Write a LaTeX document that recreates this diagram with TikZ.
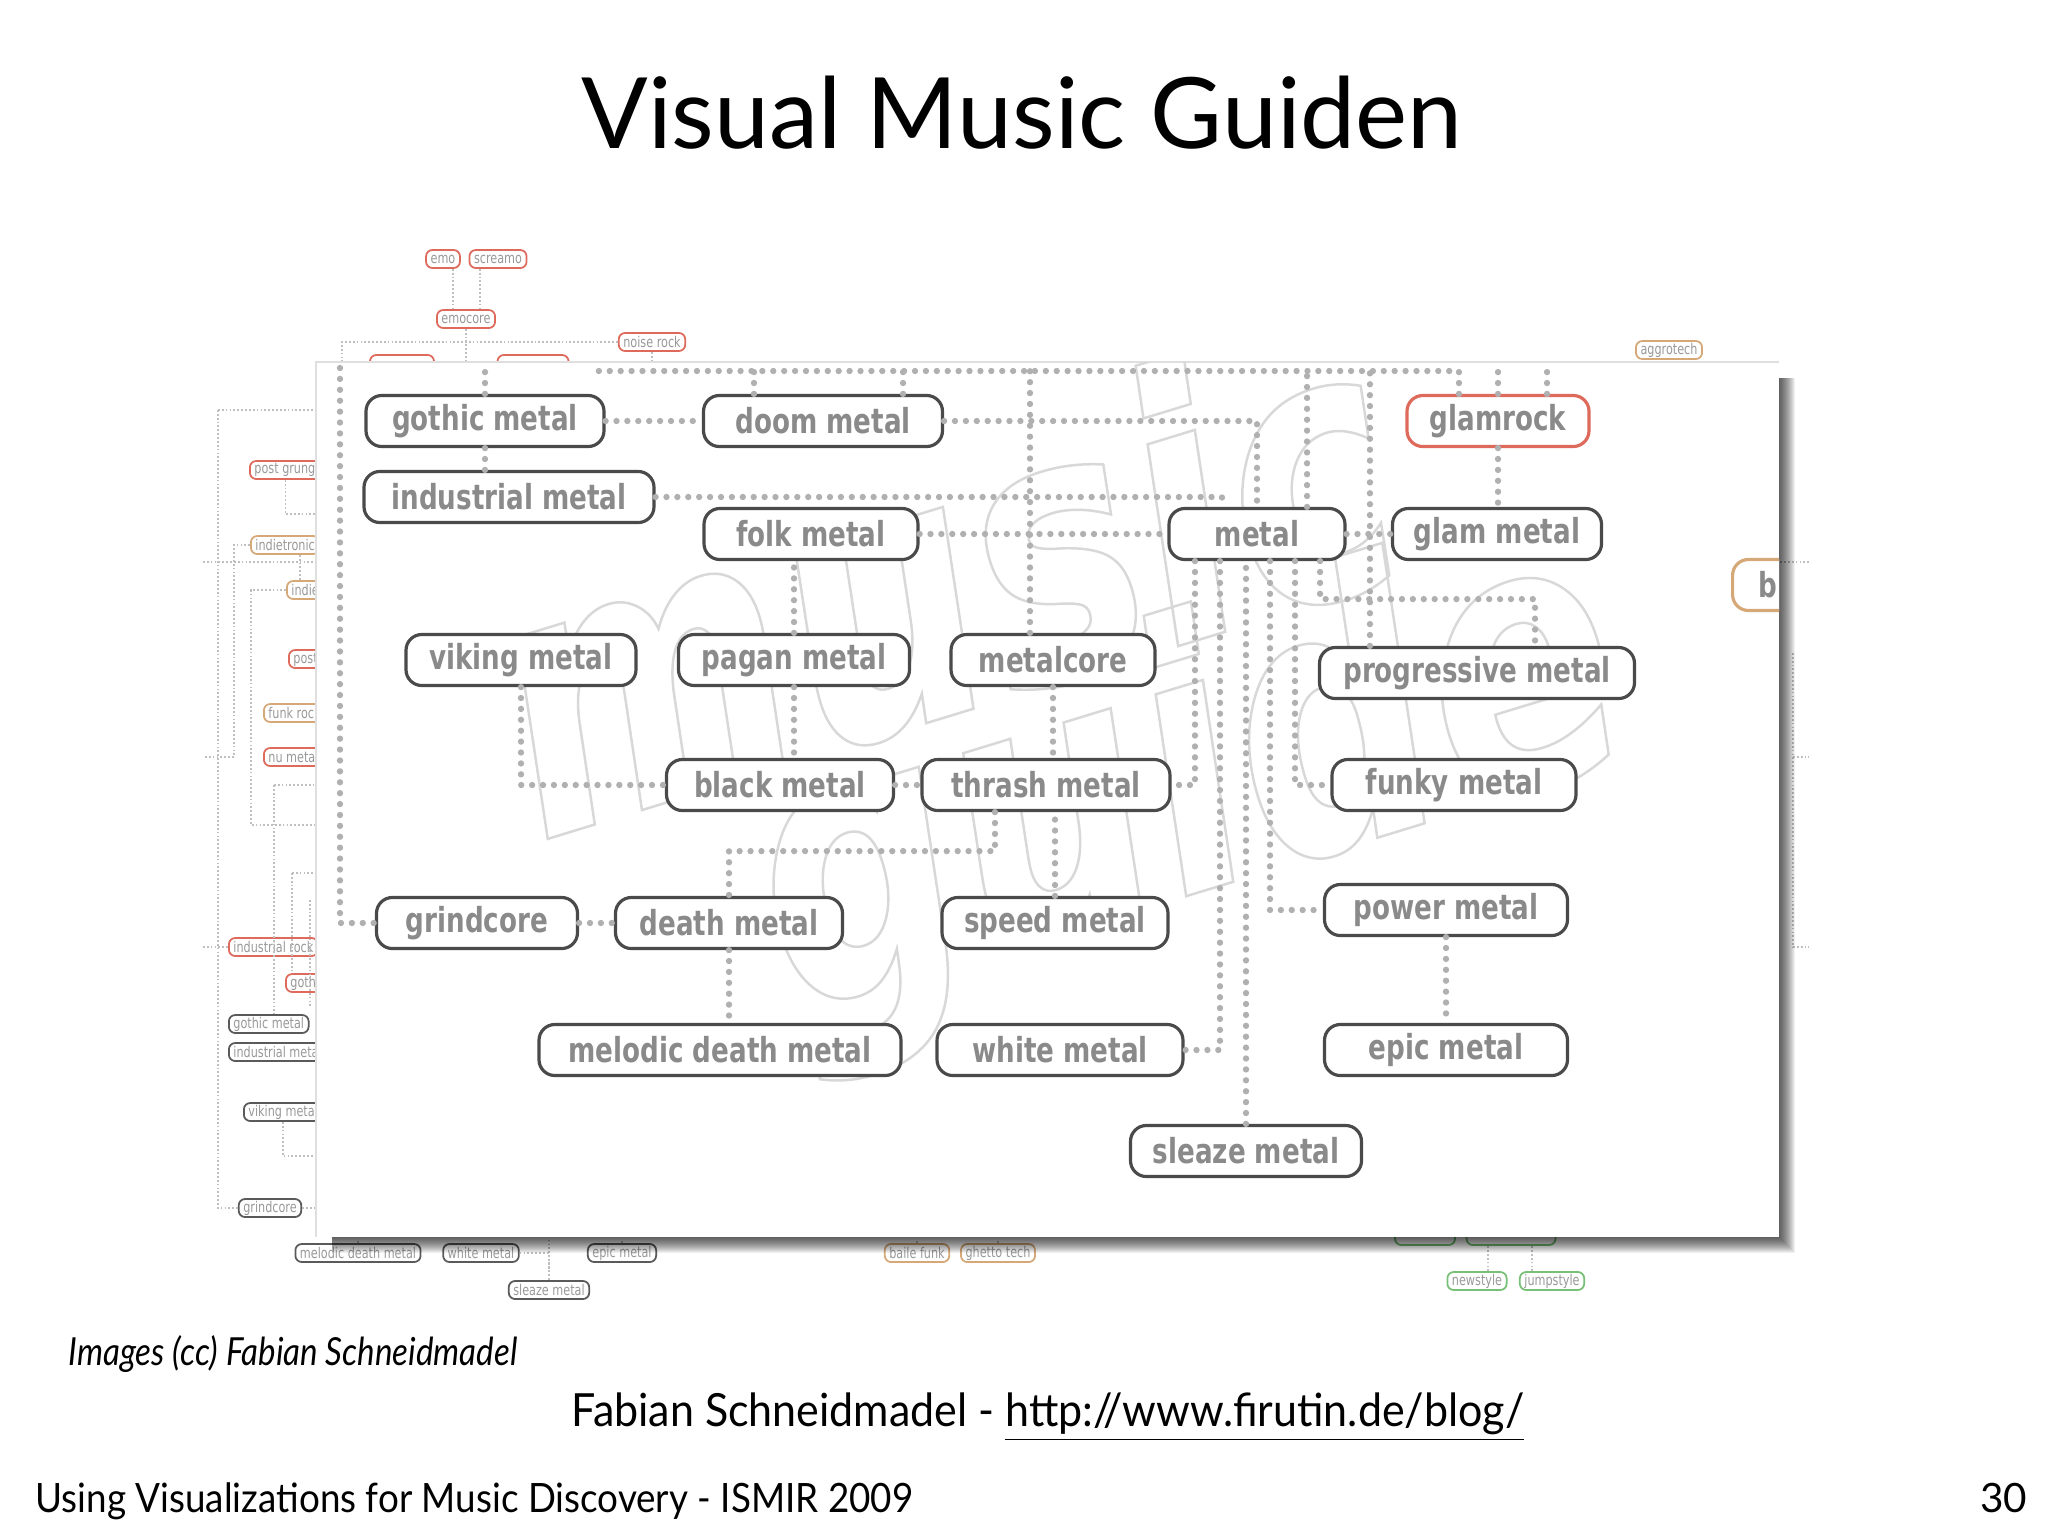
\documentclass[tikz,border=0pt]{standalone}
\usepackage{fontspec}
\usepackage{xcolor}
\usepackage{tikz}
\usetikzlibrary{calc, positioning}
\setmainfont{Lato}
\newfontfamily\genrefont[FakeStretch=0.76]{DejaVu Sans}
\newcommand{\outlinetext}[1]{\special{pdf:code q 1 Tr 0.7 w}#1\special{pdf:code Q}}

\definecolor{nodeborder}{HTML}{4A4A4A}
\definecolor{nodetext}{HTML}{8A8A8A}
\definecolor{dotgray}{HTML}{B0B0B0}
\definecolor{redborder}{HTML}{DE6A5C}
\definecolor{tanborder}{HTML}{D6A878}
\definecolor{greenborder}{HTML}{78C077}
\definecolor{minigray}{HTML}{5A5A5A}
\definecolor{markgray}{HTML}{D8D8D8}

\tikzset{
    genre/.style={draw=nodeborder, line width=0.9pt, rounded corners=4.5pt, fill=white,
        minimum height=0.51cm, minimum width=#1*0.01cm, inner sep=0pt,
        text=nodetext, font=\genrefont\bfseries\fontsize{9.8}{10}\selectfont},
    genre/.default=200,
    mini/.style={draw=#1, line width=0.5pt, rounded corners=1.8pt, fill=white,
        minimum height=0.18cm, inner xsep=1.3pt, inner ysep=0pt,
        text=gray!80, font=\genrefont\fontsize{4.2}{5}\selectfont},
    mini/.default=minigray,
    link/.style={draw=dotgray, line width=1.8pt, line cap=round, dash pattern=on 0pt off 3.1pt},
    minilink/.style={draw=gray!50, line width=0.45pt, dash pattern=on 0.5pt off 0.6pt},
    slidetext/.style={inner sep=0pt, text=black},
    logotext/.style={rotate=17, inner sep=0pt, text=markgray,
        font=\genrefont\bfseries\itshape\fontsize{105}{105}\selectfont},
}

\begin{document}
\begin{tikzpicture}[x=0.01cm, y=-0.01cm]
    \useasboundingbox (0,0) rectangle (2048,1536);
    \coordinate (paneltop) at (0,366);
    \coordinate (panelfoot) at (0,1240);

    % Hintergrund: zweite Ansicht
    \node[mini=redborder] (memo) at (443,259) {emo};
    \node[mini=redborder] (mscreamo) at (498,259) {screamo};
    \node[mini=redborder] (memocore) at (466,319) {emocore};
    \node[mini=redborder] (mnoise) at (652,342) {noise rock};
    \node[mini=redborder, minimum width=0.64cm] (mhidA) at (402,364) {};
    \node[mini=redborder, minimum width=0.71cm] (mhidB) at (533,364) {};
    \node[mini=tanborder] (maggro) at (1669,350) {aggrotech};

    \node[mini=redborder, anchor=west] (mpostgrunge) at (249,470) {post grunge};
    \node[mini=tanborder, anchor=west] (mindietronic) at (250,545) {indietronic};
    \node[mini=tanborder, anchor=west] (mindie) at (286,590) {indie rock};
    \node[mini=redborder, anchor=west] (mpost) at (288,659) {post rock};
    \node[mini=tanborder, anchor=west] (mfunkrock) at (263,713) {funk rock};
    \node[mini=redborder, anchor=west] (mnumetal) at (263,757) {nu metal};
    \node[mini=redborder, anchor=west] (mindrock) at (228,947) {industrial rock};
    \node[mini=redborder, anchor=west] (mgothrock) at (285,983) {gothic rock};
    \node[mini, anchor=west] (mgothmetal) at (228,1024) {gothic metal};
    \node[mini, anchor=west] (mindmetal) at (228,1052) {industrial metal};
    \node[mini, anchor=west] (mviking) at (243,1112) {viking metal};
    \node[mini] (mgrind) at (270,1208) {grindcore};

    \node[mini] (mmelodic) at (358,1253) {melodic death metal};
    \node[mini] (mwhite) at (481,1253) {white metal};
    \node[mini] (mepic) at (622,1253) {epic metal};
    \node[mini] (msleaze) at (549,1290) {sleaze metal};
    \node[mini=tanborder] (mbaile) at (917,1253) {baile funk};
    \node[mini=tanborder] (mghetto) at (998,1253) {ghetto tech};
    \node[mini=greenborder, minimum width=0.6cm] (mgreenA) at (1425,1236) {};
    \node[mini=greenborder, minimum width=0.89cm] (mgreenB) at (1511,1236) {};
    \node[mini=greenborder] (mnewstyle) at (1477,1281) {newstyle};
    \node[mini=greenborder] (mjumpstyle) at (1552,1281) {jumpstyle};

    % Linien der zweiten Ansicht
    \draw[minilink] ([xshift=0.1cm]memo.south) -- ++(0,42);
    \draw[minilink] ([xshift=-0.18cm]mscreamo.south) -- ++(0,42);
    \draw[minilink] (memocore.south) -- (memocore.south |- paneltop);
    \coordinate (backrow) at (342,342);
    \draw[minilink] (backrow |- paneltop) -- (backrow) -- (mnoise.west);
    \draw[minilink] (mnoise.south) -- (mnoise.south |- paneltop);

    \coordinate (railA) at (218,410);
    \draw[minilink] (railA) -- ++(110,0);
    \draw[minilink] (railA) |- (mgrind.west);
    \coordinate (stubA) at (203,562);
    \draw[minilink] (stubA) -- ++(125,0);
    \draw[minilink] ([xshift=-0.03cm]mpostgrunge.south) -- ++(0,34) -- ++(40,0);
    \coordinate (stubB) at (203,757);
    \draw[minilink] (mindietronic.west) -- ++(-16,0) |- (stubB);
    \draw[minilink] ([xshift=0.15cm]mindietronic.south) -- ++(0,27);
    \draw[minilink] (mindie.west) -- ++(-35,0) -- ++(0,235) -- ++(80,0);
    \coordinate (railC) at (274,785);
    \draw[minilink] (railC) -- ++(55,0);
    \draw[minilink] (railC) -- (railC |- mgothmetal.north);
    \coordinate (railD) at (292,873);
    \draw[minilink] (railD) -- ++(35,0);
    \draw[minilink] (railD) -- (railD |- mgothrock.north);
    \coordinate (railE) at (310,900);
    \draw[minilink] (railE) -- ++(0,107);
    \coordinate (stubC) at (203,947);
    \draw[minilink] (stubC) -- (mindrock.west);
    \coordinate (railF) at (283,1156);
    \draw[minilink] (railF |- mviking.south) -- (railF) -- ++(45,0);
    \draw[minilink] (mgrind.east) -- ++(25,0);

    \coordinate (rstubA) at (1809,562);
    \draw[minilink] (rstubA) -- ++(-40,0);
    \coordinate (railR) at (1793,653);
    \draw[minilink] (railR) -- ++(0,294) -- ++(16,0);
    \draw[minilink] ([yshift=-1.04cm]railR) -- ++(16,0);

    \draw[minilink] (mmelodic.north) -- (mmelodic.north |- panelfoot);
    \draw[minilink] (mwhite.east) -| (msleaze.north);
    \draw[minilink] (msleaze.north) -- (msleaze.north |- panelfoot);
    \draw[minilink] (mepic.north) -- (mepic.north |- panelfoot);
    \draw[minilink] (mbaile.north) -- (mbaile.north |- panelfoot);
    \draw[minilink] (mghetto.north) -- (mghetto.north |- panelfoot);
    \draw[minilink] ([xshift=0.11cm]mnewstyle.north) -- ++(0,-27);
    \draw[minilink] ([xshift=-0.2cm]mjumpstyle.north) -- ++(0,-27);

    % Schatten und Fenster
    \foreach \s in {1,...,16}
        \fill[black, opacity=0.06] (332,378) rectangle ++(1447+\s, 859+\s);
    \fill[white] (316,362) rectangle (1779,1237);
    \draw[gray!25, line width=0.4pt] (316,1237) -- (316,362) -- (1779,362);

    % Logo im Hintergrund (nur Umriss)
    \begin{scope}
        \clip (316,362) rectangle (1779,1237);
        \node[logotext] (logoA) at (940,575) {\outlinetext{music}};
        \node[logotext] (logoB) at (1190,790) {\outlinetext{guide}};
    \end{scope}

    % Knoten
    \node[genre=238] (gothic) at (485,421) {gothic metal};
    \node[genre=239] (doom) at (823,421) {doom metal};
    \node[genre=182, draw=redborder] (glamrock) at (1498,421) {glamrock};
    \node[genre=290] (indmetal) at (509,497) {industrial metal};
    \node[genre=214] (folk) at (811,534) {folk metal};
    \node[genre=176] (metal) at (1257,534) {metal};
    \node[genre=209] (glammetal) at (1497,534) {glam metal};
    \node[genre=230] (viking) at (521,660) {viking metal};
    \node[genre=231] (pagan) at (794,660) {pagan metal};
    \node[genre=204] (metalcore) at (1053,660) {metalcore};
    \node[genre=315] (prog) at (1477,673) {progressive metal};
    \node[genre=227] (black) at (780,785) {black metal};
    \node[genre=248] (thrash) at (1046,785) {thrash metal};
    \node[genre=244] (funky) at (1454,785) {funky metal};
    \node[genre=201] (grind) at (477,923) {grindcore};
    \node[genre=227] (death) at (729,923) {death metal};
    \node[genre=226] (speed) at (1055,923) {speed metal};
    \node[genre=243] (power) at (1446,910) {power metal};
    \node[genre=362] (melodic) at (720,1050) {melodic death metal};
    \node[genre=246] (white) at (1060,1050) {white metal};
    \node[genre=243] (epic) at (1446,1050) {epic metal};
    \node[genre=231] (sleaze) at (1246,1151) {sleaze metal};
    \begin{scope}
        \clip (316,362) rectangle (1779,1237);
        \node[genre, draw=tanborder, anchor=west, text width=1.6cm, inner xsep=0.26cm, align=left] (bnode) at (1731,585) {b};
    \end{scope}

    % Verbindungen
    \coordinate (toprow) at (590,371);
    \coordinate (leftrail) at (340,368);
    \draw[link] (leftrail) |- (grind.west);
    \draw[link] (gothic.north) -- (gothic.north |- paneltop);
    \draw[link] (gothic.south) -- (gothic.south |- indmetal.north);
    \draw[link] (gothic.east) -- (doom.west);
    \draw[link] (doom.east) -| (metal.north);
    \draw[link] ([xshift=-0.39cm]glamrock.north) |- (toprow);
    \draw[link] ([xshift=-0.69cm]doom.north) -- ++(0,-25);
    \draw[link] ([xshift=0.8cm]doom.north) -- ++(0,-25);
    \draw[link] ([xshift=-0.23cm]metalcore.north) -- ++(0,-264);
    \draw[link] ([xshift=0.5cm]metal.north) -- ++(0,-138);
    \draw[link] ([xshift=-1.07cm]prog.north) -- ++(0,-277);
    \draw[link] (glamrock.north) -- (glamrock.north |- paneltop);
    \draw[link] ([xshift=0.49cm]glamrock.north) -- ++(0,-27);
    \draw[link] (glamrock.south) -- (glamrock.south |- glammetal.north);
    \draw[link] (indmetal.east) -| ([xshift=-0.35cm]metal.north);
    \draw[link] (folk.east) -- (metal.west);
    \draw[link] (metal.east) -- (glammetal.west);
    \draw[link] (pagan.north) -- (pagan.north |- folk.south);
    \draw[link] (pagan.south) -- (pagan.south |- black.north);
    \draw[link] (viking.south) |- (black.west);
    \draw[link] (metalcore.south) -- (metalcore.south |- thrash.north);
    \draw[link] (black.east) -- (thrash.west);
    \draw[link] ([xshift=-0.62cm]metal.south) |- (thrash.east);
    \draw[link] ([xshift=-0.37cm]metal.south) |- (white.east);
    \draw[link] (sleaze.north) -- (sleaze.north |- metal.south);
    \draw[link] ([xshift=0.13cm]metal.south) |- (power.west);
    \draw[link] ([xshift=0.38cm]metal.south) |- (funky.west);
    \draw[link] ([xshift=0.63cm]metal.south) -- ++(0,38) -| ([xshift=0.58cm]prog.north);
    \draw[link] (power.south) -- (power.south |- epic.north);
    \draw[link] ([xshift=-0.51cm]thrash.south) -- ++(0,39) -| (death.north);
    \draw[link] (speed.north) -- (speed.north |- thrash.south);
    \draw[link] (grind.east) -- (death.west);
    \draw[link] (death.south) -- (death.south |- melodic.north);

    % Texte der Folie
    \node[slidetext, anchor=base, font=\fontsize{28}{33}\selectfont] (title) at (1022,148) {Visual Music Guiden};
    \node[slidetext, anchor=base west, font=\itshape\addfontfeatures{FakeStretch=0.855}\fontsize{11}{13}\selectfont] (credit) at (68,1365) {Images (cc) Fabian Schneidmadel};
    \node[slidetext, anchor=base, font=\addfontfeatures{FakeStretch=0.94}\fontsize{13}{15}\selectfont] (source) at (1048,1426) {Fabian Schneidmadel - \underline{http://www.firutin.de/blog/}};
    \node[slidetext, anchor=base west, font=\addfontfeatures{FakeStretch=0.91}\fontsize{11.5}{13}\selectfont] (footer) at (35,1512) {Using Visualizations for Music Discovery - ISMIR 2009};
    \node[slidetext, anchor=base east, font=\fontsize{11.5}{13}\selectfont] (pagenum) at (2028,1512) {30};
\end{tikzpicture}
\end{document}
